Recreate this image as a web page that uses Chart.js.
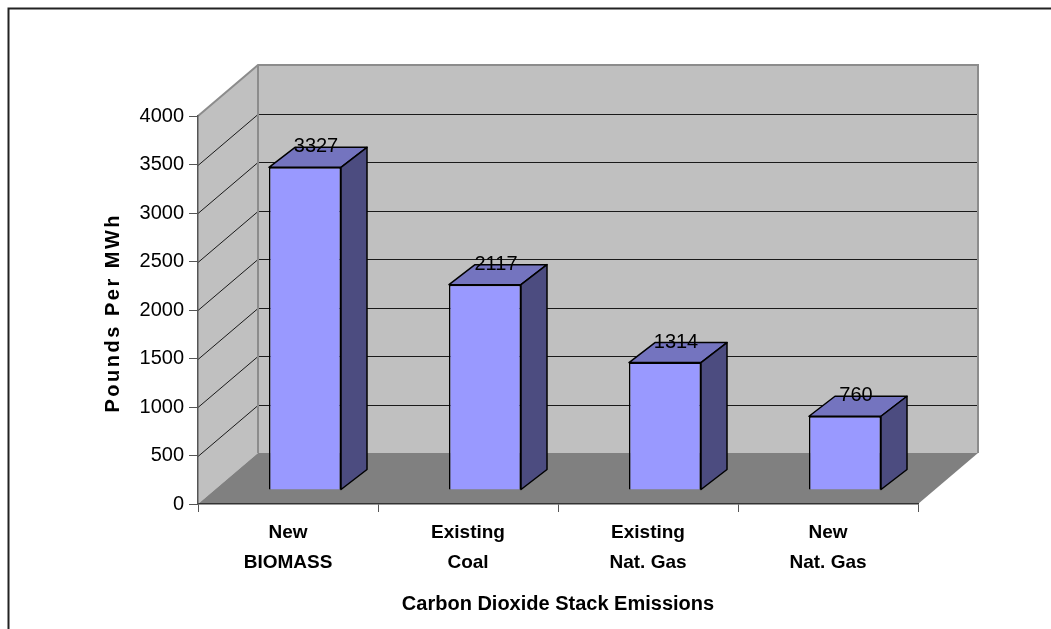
<!DOCTYPE html>
<html>
<head>
<meta charset="utf-8">
<script src="https://cdn.jsdelivr.net/npm/chart.js@4.4.1/dist/chart.umd.min.js"></script>
<style>
  html, body { margin: 0; padding: 0; background: #fff; }
  #wrap { width: 1051px; height: 629px; position: relative; }
</style>
</head>
<body>
<div id="wrap"><canvas id="c"></canvas></div>
<script>
// Chart data
const categories = [["New", "BIOMASS"], ["Existing", "Coal"], ["Existing", "Nat. Gas"], ["New", "Nat. Gas"]];
const emissions = [3327, 2117, 1314, 760];
const yMin = 0;
const yMax = 4000;
const yStep = 500;
const xTitle = "Carbon Dioxide Stack Emissions";
const yTitle = "Pounds Per MWh";

// Look of the pseudo-3D plot box
const FONT = "'Liberation Sans', Arial, sans-serif";
const WALL = { dx: 60, dy: -51 };      // depth of the floor / side wall
const BAR_SHIFT = { dx: 17, dy: -14 }; // bar front plane inside the box
const BAR_DEPTH = { dx: 26, dy: -20 }; // depth of each column

function poly(ctx, pts) {
  ctx.beginPath();
  ctx.moveTo(pts[0][0], pts[0][1]);
  for (let i = 1; i < pts.length; i++) ctx.lineTo(pts[i][0], pts[i][1]);
  ctx.closePath();
}

const plot3d = {
  id: 'plot3d',
  beforeDraw(chart) {
    const { ctx, chartArea: a, scales: { y } } = chart;
    ctx.save();
    ctx.fillStyle = '#fff';
    ctx.fillRect(0, 0, chart.width, chart.height);

    // outer frame
    ctx.strokeStyle = '#222';
    ctx.lineWidth = 2;
    ctx.strokeRect(8.5, 8.5, chart.width + 50, chart.height + 50);

    const top = y.getPixelForValue(yMax);
    const bot = y.getPixelForValue(yMin);
    const L = a.left, R = a.right, dx = WALL.dx, dy = WALL.dy;

    // side wall and back wall
    ctx.fillStyle = '#c0c0c0';
    poly(ctx, [[L, top], [L + dx, top + dy], [L + dx, bot + dy], [L, bot]]);
    ctx.fill();
    ctx.fillRect(L + dx, top + dy, R - L, bot - top);

    // gridlines along the side wall and the back wall
    ctx.lineWidth = 1;
    ctx.strokeStyle = '#1a1a1a';
    for (let v = yMin + yStep; v < yMax; v += yStep) {
      const p = Math.round(y.getPixelForValue(v)) + 0.5;
      ctx.beginPath();
      ctx.moveTo(L, p);
      ctx.lineTo(L + dx, p + dy);
      ctx.lineTo(R + dx, p + dy);
      ctx.stroke();
    }

    // floor
    ctx.fillStyle = '#808080';
    poly(ctx, [[L, bot], [R, bot], [R + dx, bot + dy], [L + dx, bot + dy]]);
    ctx.fill();

    // wall edges
    ctx.strokeStyle = '#8c8c8c';
    ctx.lineWidth = 2;
    ctx.beginPath();
    ctx.moveTo(L, top);
    ctx.lineTo(L + dx, top + dy);
    ctx.lineTo(R + dx, top + dy);
    ctx.lineTo(R + dx, bot + dy);
    ctx.moveTo(L + dx, top + dy);
    ctx.lineTo(L + dx, bot + dy);
    ctx.stroke();
    ctx.restore();
  },
  beforeDatasetDraw(chart) {
    chart.ctx.save();
    chart.ctx.translate(BAR_SHIFT.dx, BAR_SHIFT.dy);
  },
  afterDatasetDraw(chart, args) {
    const ctx = chart.ctx;
    ctx.restore();
    ctx.save();
    const meta = chart.getDatasetMeta(args.index);
    meta.data.forEach((el, i) => {
      const { x, y, base, width } = el.getProps(['x', 'y', 'base', 'width'], true);
      const fl = x - width / 2 + BAR_SHIFT.dx;
      const fr = x + width / 2 + BAR_SHIFT.dx;
      const ft = y + BAR_SHIFT.dy;
      const fb = base + BAR_SHIFT.dy;
      const bx = BAR_DEPTH.dx, by = BAR_DEPTH.dy;
      ctx.lineWidth = 1.5;
      ctx.strokeStyle = '#000';
      ctx.lineJoin = 'round';
      // top face
      ctx.fillStyle = '#7474bf';
      poly(ctx, [[fl, ft], [fr, ft], [fr + bx, ft + by], [fl + bx, ft + by]]);
      ctx.fill(); ctx.stroke();
      // side face
      ctx.fillStyle = '#4c4c80';
      poly(ctx, [[fr, ft], [fr + bx, ft + by], [fr + bx, fb + by], [fr, fb]]);
      ctx.fill(); ctx.stroke();
      // value label
      ctx.fillStyle = '#000';
      ctx.font = '20px ' + FONT;
      ctx.textAlign = 'center';
      ctx.textBaseline = 'alphabetic';
      ctx.fillText(String(emissions[i]), (fl + fr) / 2 + 11, ft - 15);
    });
    ctx.restore();
  },
  afterDraw(chart) {
    const ctx = chart.ctx;
    ctx.save();
    ctx.translate(113, 314);
    ctx.rotate(-Math.PI / 2);
    ctx.fillStyle = '#000';
    ctx.font = 'bold 20px ' + FONT;
    ctx.letterSpacing = '2.5px';
    ctx.textAlign = 'center';
    ctx.textBaseline = 'middle';
    ctx.fillText(yTitle, 1.25, 0);
    ctx.restore();
  }
};

new Chart(document.getElementById('c'), {
  type: 'bar',
  data: {
    labels: categories,
    datasets: [{
      data: emissions,
      backgroundColor: '#9999ff',
      borderColor: '#000',
      borderWidth: 1.5,
      categoryPercentage: 1,
      barPercentage: 0.4
    }]
  },
  options: {
    responsive: true,
    maintainAspectRatio: false,
    animation: false,
    layout: { padding: { left: 0, top: 116, right: 133, bottom: 0 } },
    plugins: { legend: { display: false }, tooltip: { enabled: false } },
    scales: {
      x: {
        type: 'category',
        offset: true,
        grid: { offset: true, drawOnChartArea: false, drawTicks: true, tickLength: 8, color: '#555', lineWidth: 1 },
        border: { display: true, color: '#333', width: 1.5 },
        ticks: {
          color: '#000',
          font: { family: FONT, size: 19, weight: 'bold', lineHeight: 1.58 },
          padding: 6,
          maxRotation: 0,
          autoSkip: false
        },
        title: {
          display: true,
          text: xTitle,
          color: '#000',
          font: { family: FONT, size: 20, weight: 'bold' },
          padding: { top: 0, bottom: 13 }
        },
        afterFit(s) { s.height = 125; }
      },
      y: {
        min: yMin,
        max: yMax,
        ticks: {
          stepSize: yStep,
          color: '#000',
          font: { family: FONT, size: 20 },
          padding: 5,
          callback: (v) => String(v)
        },
        grid: { drawOnChartArea: false, tickLength: 9, color: '#555' },
        border: { display: true, color: '#555', width: 1.5 },
        afterFit(s) { s.width = 198; }
      }
    }
  },
  plugins: [plot3d]
});
</script>
</body>
</html>
